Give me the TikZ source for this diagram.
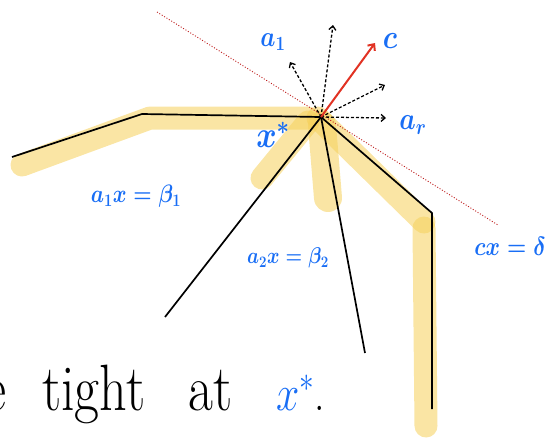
\RequirePackage{fix-cm}
\documentclass[tikz,border=0pt]{standalone}
\usepackage{fontspec}
\usetikzlibrary{arrows.meta}
\definecolor{hlyellow}{RGB}{245,208,90}
\definecolor{hblue}{RGB}{25,110,245}
\definecolor{cred}{RGB}{225,50,35}
\definecolor{dred}{RGB}{190,30,30}
\begin{document}
\begin{tikzpicture}[x=1pt,y=-1pt,
  hl/.style={line width=23pt, line cap=round, line join=round, draw=hlyellow, draw opacity=0.55},
  edge/.style={line width=1.7pt, line join=miter},
  vec/.style={line width=1.3pt, dash pattern=on 3pt off 2pt, -{Straight Barb[length=4pt,width=7pt]}},
  lab/.style={text=hblue, inner sep=0pt, yscale=1.2, transform shape},
  bigw/.style={inner sep=0pt, anchor=base west, font=\fontsize{57}{66}\selectfont, xscale=0.95, yscale=1.15, transform shape},
]
\useasboundingbox (0,0) rectangle (547,440);
% highlights
\draw[hl] (22,165) -- (150,118) -- (308,118);
\draw[hl] (308,122) -- (262,178);
\draw[hl, line width=28pt] (322,125) -- (328,198);
\draw[hl] (318,118) -- (424,222);
\draw[hl] (424,228) -- (426,426);
% points
\coordinate (A) at (12,157);
\coordinate (B) at (142,114);
\coordinate (V) at (321,117);
\coordinate (C) at (432,213);
\coordinate (D) at (432,409);
\coordinate (E) at (165,317);
\coordinate (F) at (365,353);
\coordinate (H1) at (157,12);
\coordinate (H2) at (498,225);
\coordinate (T1) at (290,62);
\coordinate (T2) at (333,25);
\coordinate (T3) at (385,85);
\coordinate (T4) at (386,118);
\coordinate (TC) at (375,43);
% hyperplane
\draw[dred, line width=0.9pt, dash pattern=on 1pt off 1.8pt] (H1) -- (H2);
% edges
\draw[edge] (A) -- (B) -- (V) -- (C) -- (D);
\draw[edge] (V) -- (E);
\draw[edge] (V) -- (F);
% vectors
\draw[vec] (V) -- (T1);
\draw[vec] (V) -- (T2);
\draw[vec] (V) -- (T3);
\draw[vec] (V) -- (T4);
\draw[cred, line width=2pt, -{Straight Barb[length=5pt,width=9pt]}] (V) -- (TC);
% labels
\node[lab, font=\fontsize{24}{28}\selectfont\boldmath] (la1) at (273,42) {$a_{1}$};
\node[lab, font=\fontsize{28}{32}\selectfont\boldmath] (lc) at (390,41) {$c$};
\node[lab, font=\fontsize{26}{30}\selectfont\boldmath] (lar) at (413,125) {$a_{r}$};
\node[lab, font=\fontsize{31}{36}\selectfont\boldmath] (lx) at (273,135) {$x^{*}$};
\node[lab, font=\fontsize{21}{25}\selectfont\boldmath] (l1) at (136,196) {$a_{1}x=\beta_{1}$};
\node[lab, font=\fontsize{19}{23}\selectfont\boldmath] (l2) at (288,258) {$a_{2}x=\beta_{2}$};
\node[lab, font=\fontsize{22}{26}\selectfont\boldmath] (l3) at (510,246) {$cx=\delta$};
% bottom text
\node[bigw, anchor=base east] (w0) at (7,410) {e};
\node[bigw] (w1) at (42,410) {tight};
\node[bigw] (w2) at (188,410) {at};
\node[bigw, font=\fontsize{44}{52}\selectfont] (w3) at (276,410) {\textcolor{hblue}{$x^{*}$}.};
\end{tikzpicture}
\end{document}
